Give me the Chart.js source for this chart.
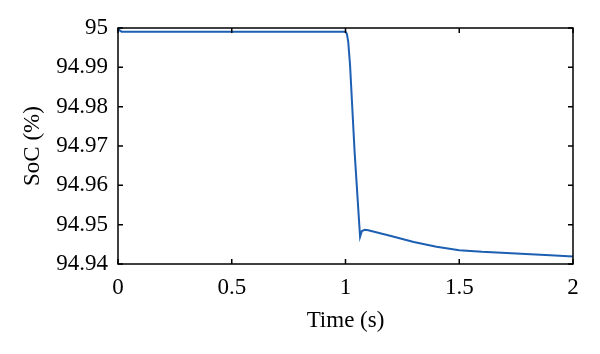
<!DOCTYPE html>
<html>
<head>
<meta charset="utf-8">
<script src="https://cdn.jsdelivr.net/npm/chart.js@4/dist/chart.umd.min.js"></script>
<style>
    html, body { margin: 0; padding: 0; background: #fff; }
    #wrap { width: 600px; height: 354px; position: relative; }
</style>
</head>
<body>
<div id="wrap"><canvas id="soc-chart"></canvas></div>
<script>
// ===========================================
// DATA
// ===========================================
const timeS = [0, 0.005, 0.016, 0.5, 1.0, 1.006, 1.012, 1.02, 1.04, 1.064, 1.072, 1.085, 1.1, 1.2, 1.3, 1.4, 1.5, 1.6, 1.75, 1.9, 2.0];
const socPct = [95.0, 94.9995, 94.99906, 94.99906, 94.99906, 94.9985, 94.9965, 94.9906, 94.9685, 94.9469, 94.9484, 94.9487, 94.9486, 94.9471, 94.9456, 94.9444, 94.9435, 94.9431, 94.9427, 94.9422, 94.9419];

const xTicks = [0, 0.5, 1, 1.5, 2];
const xTickLabels = ['0', '0.5', '1', '1.5', '2'];
const yTicks = [94.94, 94.95, 94.96, 94.97, 94.98, 94.99, 95];
const yTickLabels = ['94.94', '94.95', '94.96', '94.97', '94.98', '94.99', '95'];

const SERIF = '"Liberation Serif", "DejaVu Serif", serif';

// ===========================================
// BOX + INWARD TICKS
// ===========================================
const boxTicks = {
    id: 'boxTicks',
    afterDatasetsDraw(chart) {
        const ctx = chart.ctx;
        const a = chart.chartArea;
        const xs = chart.scales.x;
        const ys = chart.scales.y;
        const len = 5;
        ctx.save();
        ctx.strokeStyle = '#000';
        ctx.lineWidth = 1.5;
        ctx.strokeRect(a.left, a.top, a.right - a.left, a.bottom - a.top);
        ctx.beginPath();
        xTicks.forEach(v => {
            const px = xs.getPixelForValue(v);
            ctx.moveTo(px, a.bottom); ctx.lineTo(px, a.bottom - len);
            ctx.moveTo(px, a.top); ctx.lineTo(px, a.top + len);
        });
        yTicks.forEach(v => {
            const py = ys.getPixelForValue(v);
            ctx.moveTo(a.left, py); ctx.lineTo(a.left + len, py);
            ctx.moveTo(a.right, py); ctx.lineTo(a.right - len, py);
        });
        ctx.stroke();
        ctx.restore();
    }
};

new Chart(document.getElementById('soc-chart'), {
    type: 'line',
    data: {
        datasets: [{
            data: timeS.map((t, i) => ({ x: t, y: socPct[i] })),
            borderColor: '#1d5fb2',
            borderWidth: 2,
            pointRadius: 0,
            tension: 0,
            fill: false,
        }]
    },
    options: {
        responsive: true,
        maintainAspectRatio: false,
        animation: false,
        layout: { padding: { top: 28, right: 27, left: 0, bottom: 19 } },
        plugins: {
            legend: { display: false },
            tooltip: { enabled: false }
        },
        scales: {
            x: {
                type: 'linear',
                min: 0,
                max: 2,
                afterBuildTicks: s => { s.ticks = xTicks.map(v => ({ value: v })); },
                afterFit: s => { s.height = 71; },
                grid: { display: false, drawTicks: false },
                border: { display: false },
                ticks: {
                    padding: 10,
                    color: '#000',
                    font: { family: SERIF, size: 23 },
                    maxRotation: 0,
                    callback: (v, i) => xTickLabels[i]
                },
                title: {
                    display: true,
                    text: 'Time (s)',
                    color: '#000',
                    font: { family: SERIF, size: 23 },
                    padding: { top: 2, bottom: 0 }
                }
            },
            y: {
                min: 94.94,
                max: 95,
                afterBuildTicks: s => { s.ticks = yTicks.map(v => ({ value: v })); },
                afterFit: s => { s.width = 118; },
                grid: { display: false, drawTicks: false },
                border: { display: false },
                ticks: {
                    padding: 10,
                    color: '#000',
                    font: { family: SERIF, size: 23 },
                    callback: (v, i) => yTickLabels[i]
                },
                title: {
                    display: true,
                    text: 'SoC (%)',
                    color: '#000',
                    font: { family: SERIF, size: 23 },
                    padding: { top: 19, bottom: 0 }
                }
            }
        }
    },
    plugins: [boxTicks]
});
</script>
</body>
</html>
